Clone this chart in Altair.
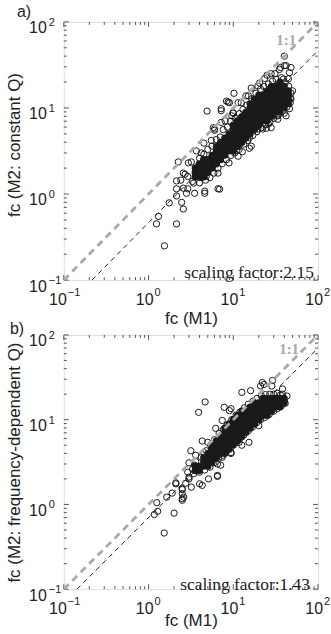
import altair as alt
import pandas as pd

# ---------------- data ----------------
# panel a: fc(M1) vs fc(M2: constant Q); dense core given column by column
dense_a_m1 = [3.55, 3.98, 4.47, 5.01, 5.62, 6.31, 7.08, 7.94, 8.91, 10.0, 11.2, 12.6,
              14.1, 15.8, 17.8, 20.0, 22.4, 25.1, 28.2, 31.6, 35.5, 39.8, 44.7]
dense_a_m2 = [
    [1.58, 1.78, 2.0],
    [1.58, 1.78, 2.0, 2.24],
    [1.58, 1.78, 2.0, 2.24, 2.51],
    [1.78, 2.0, 2.24, 2.51],
    [2.0, 2.24, 2.51, 2.82],
    [2.24, 2.51, 2.82, 3.16, 3.55],
    [2.51, 2.82, 3.16, 3.55, 3.98],
    [2.82, 3.16, 3.55, 3.98, 4.47],
    [3.16, 3.55, 3.98, 4.47, 5.01],
    [3.16, 3.55, 3.98, 4.47, 5.01, 5.62, 6.31],
    [3.55, 3.98, 4.47, 5.01, 5.62, 6.31, 7.08],
    [3.98, 4.47, 5.01, 5.62, 6.31, 7.08, 7.94],
    [4.47, 5.01, 5.62, 6.31, 7.08, 7.94, 8.91],
    [5.01, 5.62, 6.31, 7.08, 7.94, 8.91, 10.0, 11.2],
    [5.62, 6.31, 7.08, 7.94, 8.91, 10.0, 11.2, 12.6],
    [6.31, 7.08, 7.94, 8.91, 10.0, 11.2, 12.6, 14.1],
    [7.08, 7.94, 8.91, 10.0, 11.2, 12.6, 14.1],
    [7.08, 7.94, 8.91, 10.0, 11.2, 12.6, 14.1, 15.8],
    [7.94, 8.91, 10.0, 11.2, 12.6, 14.1, 15.8, 17.8],
    [8.91, 10.0, 11.2, 12.6, 14.1, 15.8, 17.8],
    [8.91, 10.0, 11.2, 12.6, 14.1, 15.8, 17.8, 20.0],
    [10.0, 11.2, 12.6, 14.1, 15.8, 17.8],
    [11.2, 12.6, 14.1, 15.8],
]
ring_a_m1 = [1.24, 1.31, 1.54, 2.14, 1.75, 2.57, 2.46, 2.14, 2.14, 2.57, 2.8, 2.24, 3.2, 2.57,
             2.9, 3.4, 3.5, 4.6, 4.2, 4.8, 6.6, 3.9, 4.2, 4.9, 3.67, 4.5, 6.0, 7.2, 8.7, 9.6,
             10.2, 15.5, 12.4, 19.5, 24.6, 26, 33.5, 40, 47, 48, 39, 40, 40, 48, 35, 31, 28,
             23.5, 19.5, 15.1, 12.4, 9.9, 8.3, 9.0, 7.2, 5.8, 6.0, 5.5, 2.95, 2.7, 2.4, 2.14,
             2.9, 4.6, 6.9, 6.6, 8.9, 11.4, 12.8, 16.3, 15.5, 22.2, 28, 33.5, 42, 46, 50, 48,
             44.7, 46, 36, 42, 25, 20.4, 16.3, 14.1, 11.4, 10, 8, 7.2,
             4.0, 4.5, 5.0, 5.6, 6.3, 7.0, 7.6, 8.5, 9.3, 10.5, 11.8, 13.0, 14.5, 16.5, 18.5,
             21, 23, 26, 29, 32, 37, 41, 45,
             3.3, 4.0, 4.7, 5.3, 5.9, 6.6, 7.4, 8.3, 9.3, 10.4, 11.7, 13.3, 14.8, 17, 19, 21.5,
             24, 27, 30, 34, 38, 43, 47]
ring_a_m2 = [0.45, 0.55, 0.25, 0.45, 0.79, 0.67, 0.80, 0.95, 1.42, 1.17, 1.02, 2.36, 2.36, 1.75,
             1.6, 1.34, 1.02, 1.02, 1.55, 1.62, 1.15, 2.15, 3.0, 9.2, 3.16, 3.9, 5.7, 9.8, 11.7, 8.1,
             14.8, 3.4, 4.4, 5.7, 5.8, 6.5, 8.1, 8.7, 11.5, 14.8, 21.7, 31, 40, 29.5, 28, 25, 25,
             22, 18, 13.8, 11.5, 8.8, 12, 11.5, 9.3, 5.9, 5.5, 4.2, 2.3, 1.7, 1.45, 1.15,
             1.15, 1.08, 1.14, 1.75, 2.3, 2.75, 3.1, 3.6, 4.5, 5.7, 5.9, 7.4, 8.1, 9.8, 15.8, 12.7,
             21.8, 25.7, 29.5, 31, 24, 19.5, 17, 13.8, 11.5, 8.7, 7.1, 6.8,
             2.6, 2.9, 3.3, 3.6, 4.3, 4.6, 5.6, 6.0, 7.0, 7.6, 8.6, 9.6, 10.8, 12.8, 14.8,
             16.5, 17.8, 19, 20.5, 21.5, 22.5, 19.5, 18,
             1.4, 1.35, 1.45, 1.55, 1.75, 2.0, 2.25, 2.5, 2.8, 3.0, 3.3, 3.8, 4.2, 4.8, 5.3, 5.9,
             6.4, 6.8, 7.6, 8.3, 9.2, 10.3, 13]

# panel b: fc(M1) vs fc(M2: frequency-dependent Q)
dense_b_m1 = [3.55, 3.98, 4.47, 5.01, 5.62, 6.31, 7.08, 7.94, 8.91, 10.0, 11.2, 12.6,
              14.1, 15.8, 17.8, 20.0, 22.4, 25.1, 28.2, 31.6, 35.5, 39.8]
dense_b_m2 = [
    [2.51, 2.82],
    [2.51, 2.82],
    [2.82, 3.16, 3.55],
    [2.82, 3.16, 3.55, 3.98],
    [3.16, 3.55, 3.98, 4.47, 5.01],
    [3.55, 3.98, 4.47, 5.01, 5.62],
    [3.98, 4.47, 5.01, 5.62, 6.31],
    [3.98, 4.47, 5.01, 5.62, 6.31, 7.08, 7.94],
    [4.47, 5.01, 5.62, 6.31, 7.08, 7.94, 8.91],
    [5.01, 5.62, 6.31, 7.08, 7.94, 8.91, 10.0],
    [5.62, 6.31, 7.08, 7.94, 8.91, 10.0, 11.2],
    [6.31, 7.08, 7.94, 8.91, 10.0, 11.2, 12.6],
    [7.08, 7.94, 8.91, 10.0, 11.2, 12.6],
    [7.94, 8.91, 10.0, 11.2, 12.6, 14.1],
    [8.91, 10.0, 11.2, 12.6, 14.1, 15.8],
    [10.0, 11.2, 12.6, 14.1, 15.8],
    [11.2, 12.6, 14.1, 15.8, 17.8],
    [11.2, 12.6, 14.1, 15.8, 17.8],
    [12.6, 14.1, 15.8, 17.8],
    [14.1, 15.8, 17.8],
    [14.1, 15.8, 17.8],
    [15.8, 17.8],
]
ring_b_m1 = [1.53, 1.17, 1.28, 1.25, 2.0, 1.64, 1.9, 2.5, 2.5, 2.5, 2.1, 2.75, 3.2, 3.0, 4.0,
             3.15, 3.0, 4.65, 3.9, 7.8, 9.0, 7.4, 15.3, 6.5, 7.1, 9.4, 12.6, 4.3, 5.5,
             29, 23, 21, 38, 43, 40, 34, 26, 22, 18, 15.3, 12.6,
             9.4, 12.6, 16, 22, 28.5, 38, 38, 20, 11.7, 9.4, 7.4, 6.5, 6.5, 4.3, 5.1, 3.0, 2.5,
             2.1, 2.6, 2.5, 4.5, 3.6, 6.2, 5.0,
             3.6, 4.2, 4.8, 5.4, 6.0, 6.8, 7.6, 8.5, 9.6, 10.8, 12, 13.5, 15, 17, 19, 21.5, 24,
             27, 30, 33, 36,
             3.4, 4.0, 4.6, 5.3, 5.9, 6.7, 7.5, 8.4, 9.5, 10.6, 11.9, 13.3, 15, 16.8, 18.8, 21,
             23.5, 26.5, 30, 33, 37, 41,
             3.3, 3.5, 2.9, 3.8]
ring_b_m2 = [0.46, 0.76, 0.83, 1.05, 0.79, 1.22, 1.36, 1.34, 1.17, 1.5, 1.75, 1.78, 1.6, 2.1, 1.75,
             4.3, 3.1, 16.2, 12.2, 14, 12.8, 9.8, 5.4, 2.14, 2.9, 4.0, 5.0, 5.6, 4.5,
             29, 26, 25, 23, 19, 16.6, 16.6, 14, 12.2, 10.7, 8.5, 7.2,
             13.5, 21, 22, 27.5, 25, 20, 17, 8.5, 5.4, 4.1, 3.6, 3.0, 2.2, 1.68, 2.0, 2.0, 1.53,
             1.8, 1.22, 1.12, 4.1, 3.8, 7.9, 5.4,
             3.2, 3.6, 4.3, 5.0, 5.8, 6.9, 7.6, 8.7, 10, 11.3, 12.3, 13.8, 15.2, 16.5, 17.8, 19, 19.8,
             20, 20, 20.5, 19.5,
             2.3, 2.4, 2.55, 2.75, 3.1, 3.5, 3.8, 4.3, 4.8, 5.3, 6.0, 6.6, 7.4, 8.2, 9.2, 10.0,
             10.6, 11.5, 12.6, 13.5, 14.6, 15.6,
             2.6, 2.9, 2.4, 2.7]

# reference lines: 1:1 and fitted (M2 = M1 / scaling factor)
one_to_one_m1 = [0.1, 100]
one_to_one_m2 = [0.1, 100]
fit_a_m1 = [0.215, 100]
fit_a_m2 = [0.1, 46.5]
fit_b_m1 = [0.143, 100]
fit_b_m2 = [0.1, 70.0]

major_ticks = [0.1, 1, 10, 100]
tick_exponents = ["\u22121", "0", "1", "2"]
minor_ticks = [0.2, 0.3, 0.4, 0.5, 0.6, 0.7, 0.8, 0.9,
               2, 3, 4, 5, 6, 7, 8, 9,
               20, 30, 40, 50, 60, 70, 80, 90]

SANS = "Liberation Sans, Arial, Helvetica, sans-serif"
SERIF = "Liberation Serif, Times New Roman, serif"
INK = "#1a1a1a"
W = 255


def panel(d_m1, d_m2, r_m1, r_m2, f_m1, f_m2, H, tag, tag_dx, tag_dy, ytitle,
          xtitle_pad, ytitle_pad, ytitle_y, sf_text, sf_dx, sf_dy, lab_dx, lab_dy):
    sc = alt.Scale(type="log", domain=[0.1, 100], nice=False)
    dense_rows = [(x, y) for x, ys in zip(d_m1, d_m2) for y in ys]
    df_dense = pd.DataFrame(dense_rows, columns=["m1", "m2"])
    df_ring = pd.DataFrame({"m1": r_m1, "m2": r_m2})

    x_axis = alt.Axis(title="fc (M1)", labels=False, ticks=False, domain=False,
                      grid=False, titlePadding=xtitle_pad, titleFont=SANS,
                      titleFontSize=17, titleFontWeight="normal", titleColor="#222")
    y_axis = alt.Axis(title=ytitle, labels=False, ticks=False, domain=False,
                      grid=False, titlePadding=ytitle_pad, titleY=ytitle_y, titleFont=SANS,
                      titleFontSize=17, titleFontWeight="normal", titleColor="#222")

    def X(f):
        return alt.X(f, scale=sc, axis=x_axis)

    def Y(f):
        return alt.Y(f, scale=sc, axis=y_axis)

    rings = alt.Chart(df_ring).mark_point(shape="circle", filled=False, size=40,
                                          strokeWidth=1, color=INK, opacity=1).encode(
        x=X("m1:Q"), y=Y("m2:Q"))
    dense = alt.Chart(df_dense).mark_point(shape="circle", filled=True, size=52,
                                           color=INK, opacity=1, strokeWidth=0).encode(
        x=X("m1:Q"), y=Y("m2:Q"))

    l11 = alt.Chart(pd.DataFrame({"m1": one_to_one_m1, "m2": one_to_one_m2})).mark_line(
        color="#a9a9a9", strokeWidth=2.8, strokeDash=[7, 5], clip=True).encode(
        x=X("m1:Q"), y=Y("m2:Q"))
    lfit = alt.Chart(pd.DataFrame({"m1": f_m1, "m2": f_m2})).mark_line(
        color="#222", strokeWidth=1, strokeDash=[5, 4], clip=True).encode(
        x=X("m1:Q"), y=Y("m2:Q"))

    # inward ticks on all four sides
    def ticks(vals, ln, side):
        df = pd.DataFrame({"m1": vals, "m2": vals})
        m = alt.Chart(df).mark_rule(color="#555", strokeWidth=1)
        if side == "bottom":
            return m.encode(x=X("m1:Q"), y=alt.value(H), y2=alt.value(H - ln))
        if side == "top":
            return m.encode(x=X("m1:Q"), y=alt.value(0), y2=alt.value(ln))
        if side == "left":
            return m.encode(y=Y("m2:Q"), x=alt.value(0), x2=alt.value(ln))
        return m.encode(y=Y("m2:Q"), x=alt.value(W), x2=alt.value(W - ln))

    tick_layers = []
    for s in ["bottom", "top", "left", "right"]:
        tick_layers.append(ticks(major_ticks, 5, s))
        tick_layers.append(ticks(minor_ticks, 3, s))

    # tick labels "10" with superscript exponent
    df_lab = pd.DataFrame({"m1": major_ticks, "m2": major_ticks, "e": tick_exponents})
    lab = alt.Chart(df_lab)
    short = "length(datum.e) == 1"
    longe = "length(datum.e) > 1"
    label_layers = [
        lab.transform_filter(short).mark_text(text="10", align="right", fontSize=16, font=SANS,
                                               color="#222", dx=5).encode(x=X("m1:Q"), y=alt.value(H + 20)),
        lab.transform_filter(longe).mark_text(text="10", align="right", fontSize=16, font=SANS,
                                               color="#222", dx=3).encode(x=X("m1:Q"), y=alt.value(H + 20)),
        lab.transform_filter(short).mark_text(align="left", fontSize=11, font=SANS,
                                               color="#222", dx=6).encode(x=X("m1:Q"), y=alt.value(H + 13), text="e:N"),
        lab.transform_filter(longe).mark_text(align="left", fontSize=11, font=SANS,
                                               color="#222", dx=4).encode(x=X("m1:Q"), y=alt.value(H + 13), text="e:N"),
        lab.mark_text(text="10", align="right", fontSize=16, font=SANS, color="#222",
                      dy=6.5).encode(y=Y("m2:Q"), x=alt.value(-17)),
        lab.mark_text(align="left", fontSize=11, font=SANS, color="#222",
                      dy=1).encode(y=Y("m2:Q"), x=alt.value(-15), text="e:N"),
    ]

    one = pd.DataFrame({"t": [sf_text]})
    sf = alt.Chart(one).mark_text(align="right", font=SERIF, fontSize=17.5, color="#222").encode(
        x=alt.value(W - sf_dx), y=alt.value(H - sf_dy), text="t:N")
    l11_lab = alt.Chart(pd.DataFrame({"t": ["1:1"]})).mark_text(
        align="center", font=SERIF, fontSize=15, fontWeight="bold", color="#a9a9a9").encode(
        x=alt.value(lab_dx), y=alt.value(lab_dy), text="t:N")
    tg = alt.Chart(pd.DataFrame({"t": [tag]})).mark_text(
        align="left", font=SANS, fontSize=16, color="#222").encode(
        x=alt.value(tag_dx), y=alt.value(tag_dy), text="t:N")

    return alt.layer(rings, dense, *tick_layers, l11, lfit, *label_layers, sf, l11_lab, tg).properties(
        width=W, height=H)


pa = panel(dense_a_m1, dense_a_m2, ring_a_m1, ring_a_m2, fit_a_m1, fit_a_m2, 259, "a)", -47, -10,
           "fc (M2: constant Q)", 31, 40, 123, "scaling factor:2.15", 4, 7, 223, 18)
pb = panel(dense_b_m1, dense_b_m2, ring_b_m1, ring_b_m2, fit_b_m1, fit_b_m2, 255, "b)", -54, -6,
           "fc (M2: frequency-dependent Q)", 23, 40, 127.5, "scaling factor:1.43", 8, 4, 226, 14)

chart = alt.vconcat(pa, pb, spacing=55, bounds="flush").properties(
    padding={"left": 5, "top": 2, "right": 0, "bottom": 0}
).configure_view(stroke="#8c8c8c", strokeWidth=1.4).configure(background="white")

chart.save("out.html", embed_options={"renderer": "svg", "actions": False})
